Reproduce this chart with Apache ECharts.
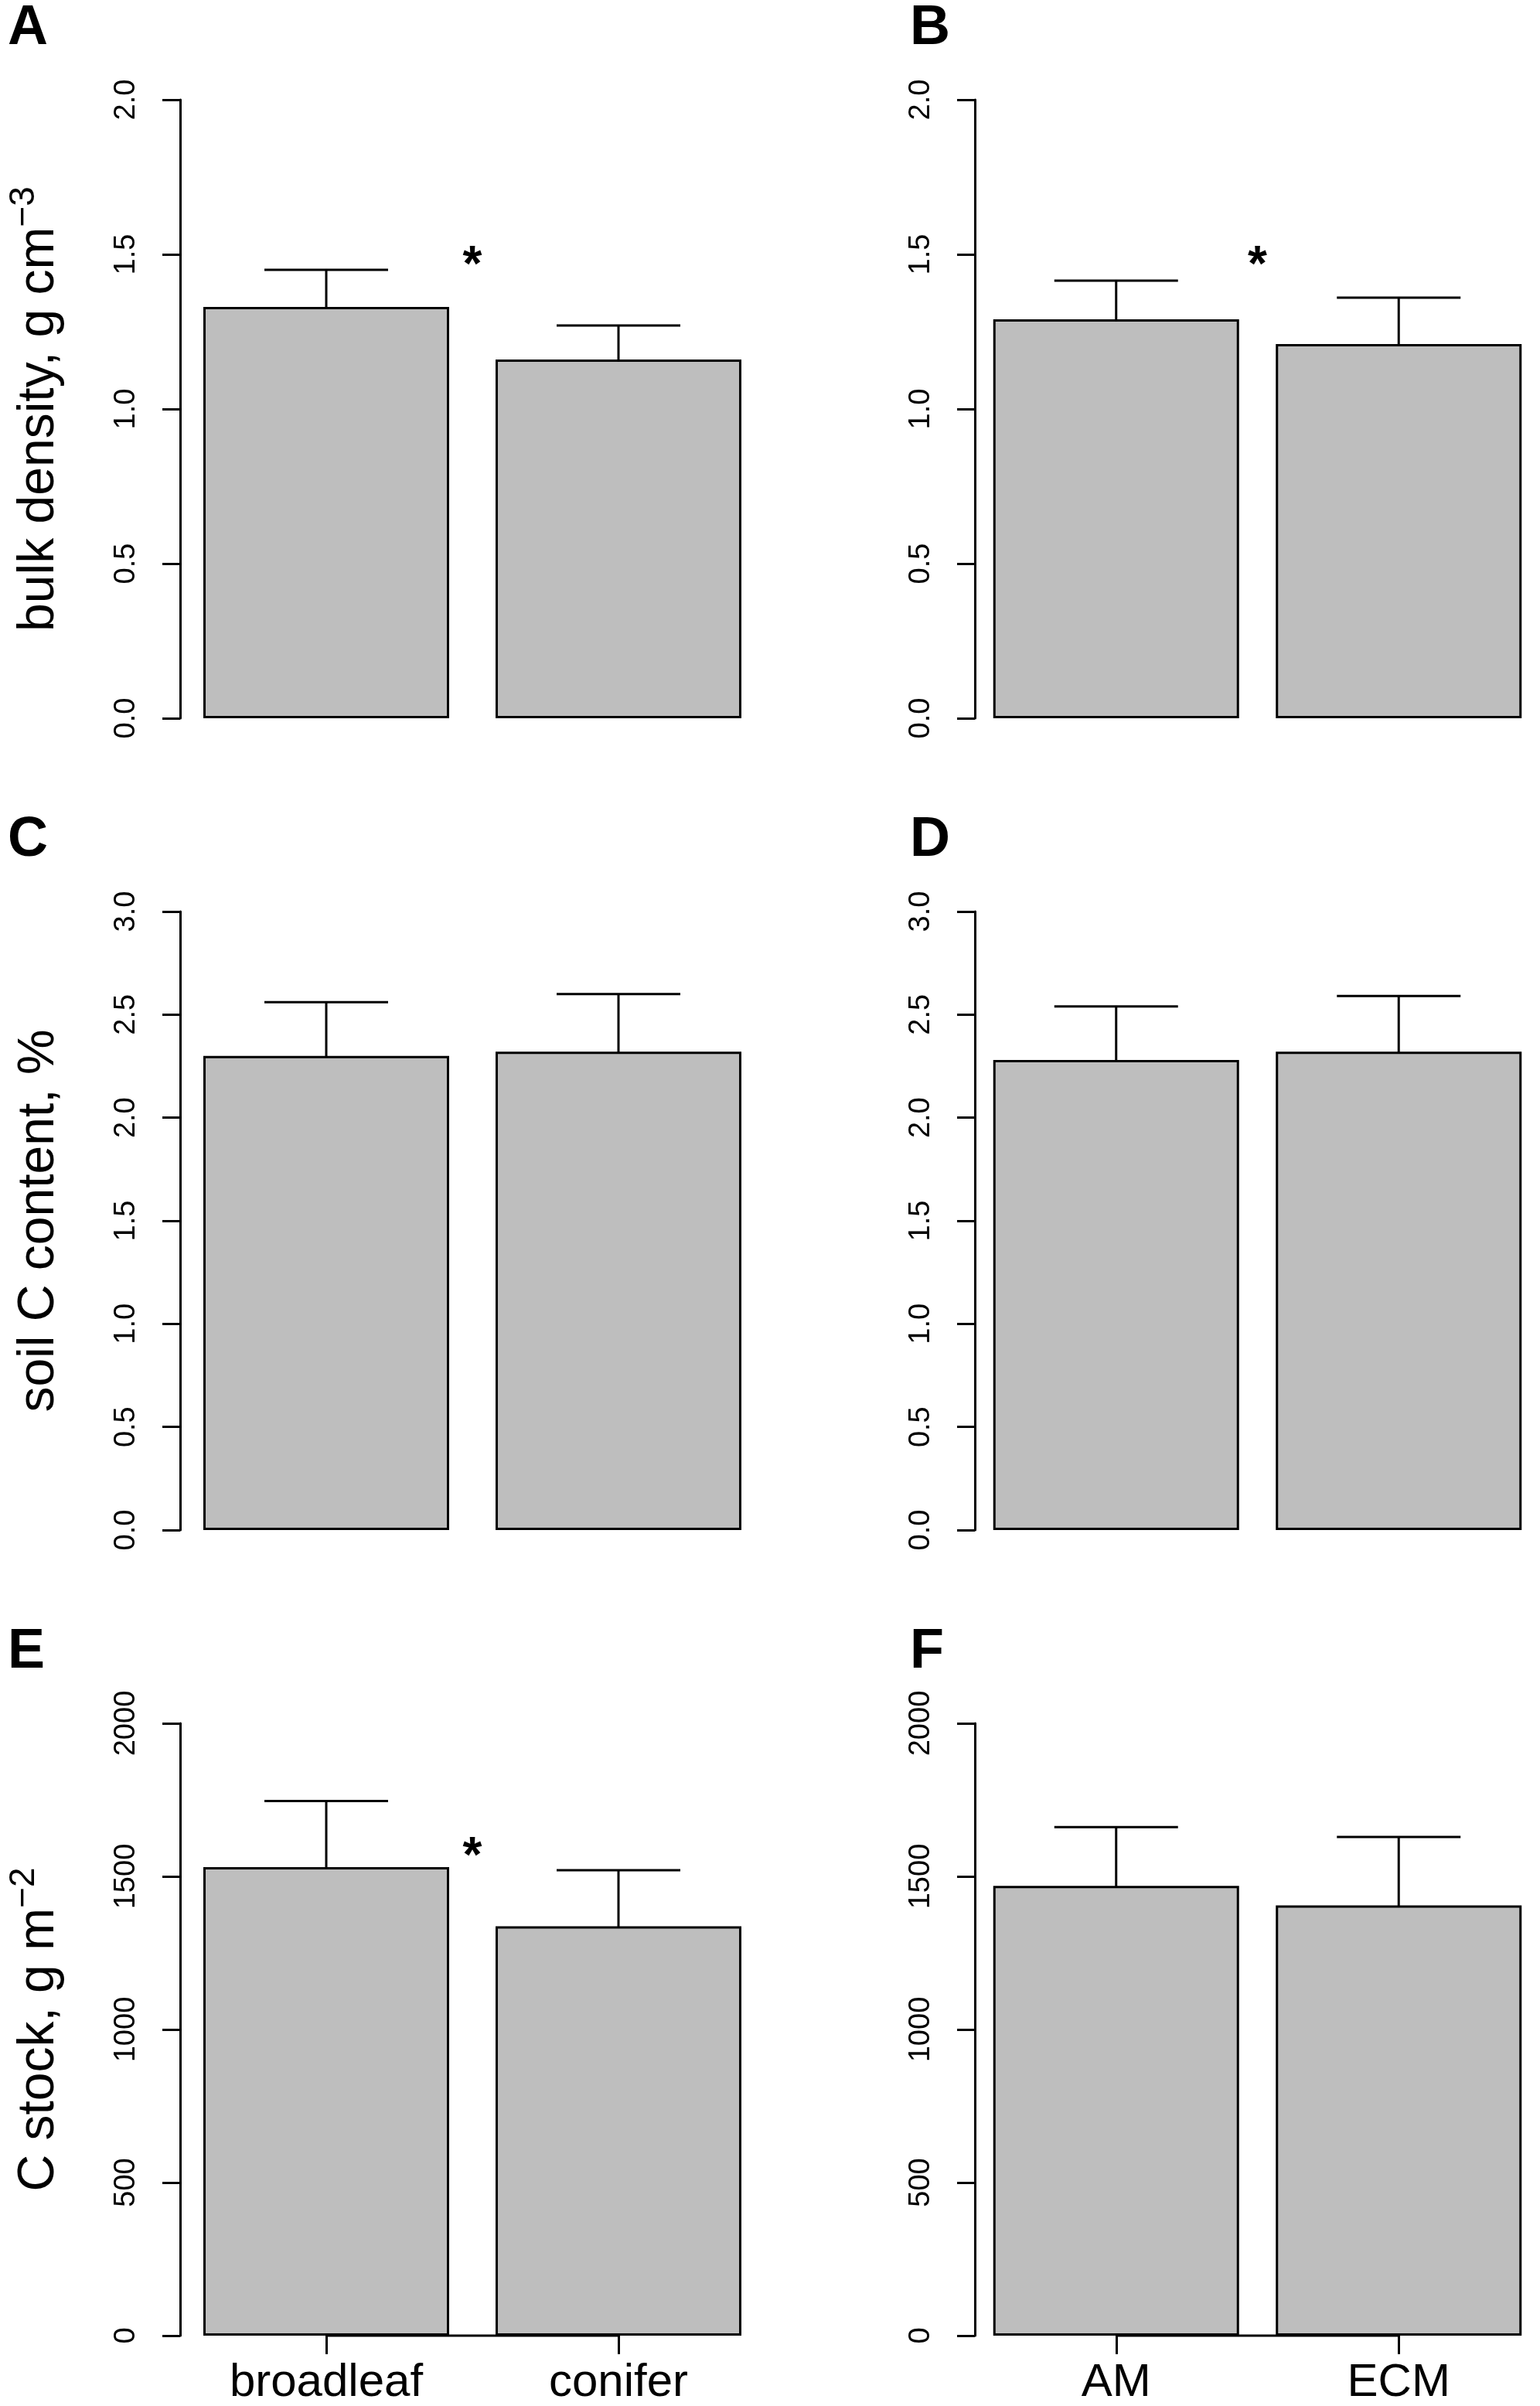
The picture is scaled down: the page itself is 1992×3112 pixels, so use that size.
<!DOCTYPE html>
<html>
<head>
<meta charset="utf-8">
<title>Bulk density, soil C content and C stock</title>
<script src="https://cdn.jsdelivr.net/npm/echarts@6/dist/echarts.min.js"></script>
<style>
  html, body { margin: 0; padding: 0; background: #fff; }
  #main { width: 1992px; height: 3112px; }
</style>
</head>
<body>
<div id="main"></div>
<script>
// groups on the x axis
const leafTypes = ['broadleaf', 'conifer'];
const mycorrhizaTypes = ['AM', 'ECM'];

// bulk density, g cm-3 (mean, lower and upper end of error bar)
const densityLeafMean = [1.33, 1.16];
const densityLeafLow = [1.22, 1.05];
const densityLeafHigh = [1.45, 1.27];
const densityMycMean = [1.29, 1.21];
const densityMycLow = [1.17, 1.07];
const densityMycHigh = [1.415, 1.36];

// soil C content, %
const carbonLeafMean = [2.30, 2.32];
const carbonLeafLow = [2.05, 2.04];
const carbonLeafHigh = [2.56, 2.60];
const carbonMycMean = [2.28, 2.32];
const carbonMycLow = [2.02, 2.05];
const carbonMycHigh = [2.54, 2.59];

// C stock, g m-2
const stockLeafMean = [1530, 1337];
const stockLeafLow = [1317, 1156];
const stockLeafHigh = [1746, 1520];
const stockMycMean = [1469, 1405];
const stockMycLow = [1276, 1185];
const stockMycHigh = [1661, 1629];

// height of the significance asterisk (null = not significant)
const starDensityLeaf = 1.5;
const starDensityMyc = 1.5;
const starStockLeaf = 1600;

// y axis ranges
const densityTicks = { max: 2, step: 0.5, digits: 1 };
const carbonTicks = { max: 3, step: 0.5, digits: 1 };
const stockTicks = { max: 2000, step: 500, digits: 0 };

const panels = [
    { letter: 'A', row: 0, col: 0, cats: leafTypes, mean: densityLeafMean, low: densityLeafLow, high: densityLeafHigh, ticks: densityTicks, star: starDensityLeaf, name: 'bulk density, g cm{sup|\u22123}' },
    { letter: 'B', row: 0, col: 1, cats: mycorrhizaTypes, mean: densityMycMean, low: densityMycLow, high: densityMycHigh, ticks: densityTicks, star: starDensityMyc, name: '' },
    { letter: 'C', row: 1, col: 0, cats: leafTypes, mean: carbonLeafMean, low: carbonLeafLow, high: carbonLeafHigh, ticks: carbonTicks, star: null, name: 'soil C content, %' },
    { letter: 'D', row: 1, col: 1, cats: mycorrhizaTypes, mean: carbonMycMean, low: carbonMycLow, high: carbonMycHigh, ticks: carbonTicks, star: null, name: '' },
    { letter: 'E', row: 2, col: 0, cats: leafTypes, mean: stockLeafMean, low: stockLeafLow, high: stockLeafHigh, ticks: stockTicks, star: starStockLeaf, name: 'C stock, g m{sup|\u22122}' },
    { letter: 'F', row: 2, col: 1, cats: mycorrhizaTypes, mean: stockMycMean, low: stockMycLow, high: stockMycHigh, ticks: stockTicks, star: null, name: '' }
];

// layout (pixels)
const FONT = '"Liberation Sans", Arial, Helvetica, sans-serif';
const GRID_TOP = 129;
const ROW_STEP = 1050;
const GRID_H = 800;
const GRID_W = 756;
const COL_LEFT = [233, 1261];
const LETTER_LEFT = [10, 1177];
const CAP_HALF = 80;

const chartDom = document.getElementById('main');
const myChart = echarts.init(chartDom);

const grid = [];
const xAxis = [];
const yAxis = [];
const series = [];
const title = [];

const black = { color: '#000', width: 3 };

panels.forEach((p, i) => {
    const bottomRow = p.row === 2;

    grid.push({ left: COL_LEFT[p.col], top: GRID_TOP + p.row * ROW_STEP, width: GRID_W, height: GRID_H });

    title.push({
        text: p.letter,
        left: LETTER_LEFT[p.col],
        top: 1 + p.row * ROW_STEP,
        padding: 0,
        textStyle: { fontSize: 72, fontWeight: 'bold', color: '#000', fontFamily: FONT }
    });

    xAxis.push({
        gridIndex: i,
        type: 'category',
        data: p.cats,
        boundaryGap: true,
        axisLine: { show: false },
        axisTick: { show: bottomRow, alignWithLabel: true, length: 24, lineStyle: black },
        axisLabel: { show: bottomRow, fontSize: 60, color: '#000', margin: 31, fontFamily: FONT },
        splitLine: { show: false }
    });

    yAxis.push({
        gridIndex: i,
        type: 'value',
        min: 0,
        max: p.ticks.max,
        interval: p.ticks.step,
        axisLine: { show: true, lineStyle: black },
        axisTick: { show: true, length: 23, lineStyle: black },
        axisLabel: {
            rotate: 90,
            fontSize: 38,
            color: '#000',
            margin: 50,
            fontFamily: FONT,
            formatter: v => v.toFixed(p.ticks.digits)
        },
        splitLine: { show: false },
        name: p.name,
        nameLocation: 'middle',
        nameRotate: 90,
        nameGap: 139,
        nameTextStyle: {
            fontSize: 66,
            lineHeight: 86,
            color: '#000',
            fontFamily: FONT,
            rich: {
                sup: { fontSize: 46, lineHeight: 16, verticalAlign: 'top', color: '#000', fontFamily: FONT }
            }
        }
    });

    // axis line between the two ticks (bottom row only)
    if (bottomRow) {
        series.push({
            type: 'custom',
            xAxisIndex: i,
            yAxisIndex: i,
            silent: true,
            data: [[0, 0]],
            encode: { x: 0, y: 1 },
            renderItem: (params, api) => {
                const a = api.coord([0, 0]);
                const b = api.coord([1, 0]);
                return { type: 'line', shape: { x1: a[0], y1: a[1], x2: b[0], y2: b[1] }, style: { stroke: '#000', lineWidth: 3 } };
            }
        });
    }

    series.push({
        type: 'bar',
        xAxisIndex: i,
        yAxisIndex: i,
        data: p.mean,
        barWidth: 318,
        silent: true,
        itemStyle: { color: '#bebebe', borderColor: '#000', borderWidth: 3 }
    });

    // error bars
    series.push({
        type: 'custom',
        xAxisIndex: i,
        yAxisIndex: i,
        silent: true,
        data: p.mean.map((m, k) => [k, p.low[k], p.high[k]]),
        encode: { x: 0, y: [1, 2] },
        renderItem: (params, api) => {
            const x = api.value(0);
            const lo = api.coord([x, api.value(1)]);
            const hi = api.coord([x, api.value(2)]);
            const st = { stroke: '#000', lineWidth: 3 };
            return {
                type: 'group',
                children: [
                    { type: 'line', shape: { x1: lo[0], y1: lo[1], x2: hi[0], y2: hi[1] }, style: st },
                    { type: 'line', shape: { x1: lo[0] - CAP_HALF, y1: lo[1], x2: lo[0] + CAP_HALF, y2: lo[1] }, style: st },
                    { type: 'line', shape: { x1: hi[0] - CAP_HALF, y1: hi[1], x2: hi[0] + CAP_HALF, y2: hi[1] }, style: st }
                ]
            };
        }
    });

    // significance asterisk between the two bars
    if (p.star != null) {
        series.push({
            type: 'custom',
            xAxisIndex: i,
            yAxisIndex: i,
            silent: true,
            data: [[0, p.star]],
            encode: { x: 0, y: 1 },
            renderItem: (params, api) => {
                const v = api.value(1);
                const a = api.coord([0, v]);
                const b = api.coord([1, v]);
                return {
                    type: 'text',
                    x: (a[0] + b[0]) / 2,
                    y: a[1] + 16,
                    style: {
                        text: '*',
                        fontSize: 64,
                        fontWeight: 'bold',
                        fontFamily: FONT,
                        fill: '#000',
                        textAlign: 'center',
                        textVerticalAlign: 'middle',
                        align: 'center',
                        verticalAlign: 'middle'
                    }
                };
            }
        });
    }
});

const option = {
    backgroundColor: '#fff',
    animation: false,
    title: title,
    grid: grid,
    xAxis: xAxis,
    yAxis: yAxis,
    series: series
};

myChart.setOption(option);

window.addEventListener('resize', () => {
    myChart.resize();
});
</script>
</body>
</html>
